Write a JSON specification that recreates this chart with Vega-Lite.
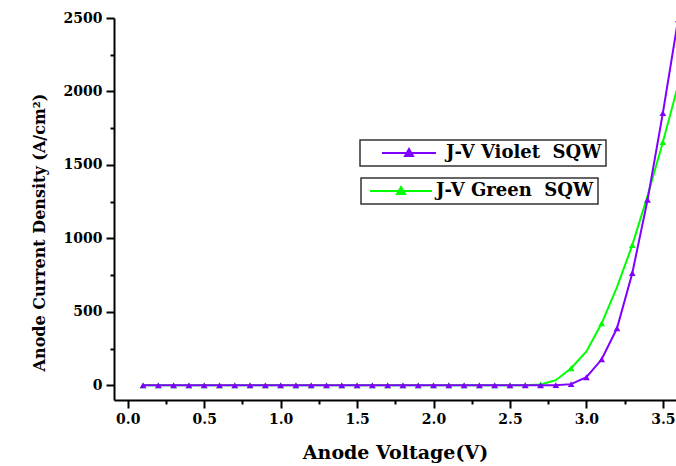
{
  "$schema": "https://vega.github.io/schema/vega-lite/v6.json",
  "width": 562,
  "height": 382,
  "autosize": {"type": "none"},
  "padding": {"left": 114, "top": 18, "right": 0, "bottom": 66},
  "background": "white",
  "config": {
    "view": {"stroke": null},
    "legend": {"strokeWidth": 1.5}
  },
  "data": {
    "values": [
      {"series": "Violet", "V": 0.1, "J": 0}, {"series": "Violet", "V": 0.2, "J": 0}, {"series": "Violet", "V": 0.3, "J": 0}, {"series": "Violet", "V": 0.4, "J": 0},
      {"series": "Violet", "V": 0.5, "J": 0}, {"series": "Violet", "V": 0.6, "J": 0}, {"series": "Violet", "V": 0.7, "J": 0}, {"series": "Violet", "V": 0.8, "J": 0},
      {"series": "Violet", "V": 0.9, "J": 0}, {"series": "Violet", "V": 1.0, "J": 0}, {"series": "Violet", "V": 1.1, "J": 0}, {"series": "Violet", "V": 1.2, "J": 0},
      {"series": "Violet", "V": 1.3, "J": 0}, {"series": "Violet", "V": 1.4, "J": 0}, {"series": "Violet", "V": 1.5, "J": 0}, {"series": "Violet", "V": 1.6, "J": 0},
      {"series": "Violet", "V": 1.7, "J": 0}, {"series": "Violet", "V": 1.8, "J": 0}, {"series": "Violet", "V": 1.9, "J": 0}, {"series": "Violet", "V": 2.0, "J": 0},
      {"series": "Violet", "V": 2.1, "J": 0}, {"series": "Violet", "V": 2.2, "J": 0}, {"series": "Violet", "V": 2.3, "J": 0}, {"series": "Violet", "V": 2.4, "J": 0},
      {"series": "Violet", "V": 2.5, "J": 0}, {"series": "Violet", "V": 2.6, "J": 0}, {"series": "Violet", "V": 2.7, "J": 0}, {"series": "Violet", "V": 2.8, "J": 1},
      {"series": "Violet", "V": 2.9, "J": 8}, {"series": "Violet", "V": 3.0, "J": 55}, {"series": "Violet", "V": 3.1, "J": 177}, {"series": "Violet", "V": 3.2, "J": 388},
      {"series": "Violet", "V": 3.3, "J": 763}, {"series": "Violet", "V": 3.4, "J": 1262}, {"series": "Violet", "V": 3.5, "J": 1853}, {"series": "Violet", "V": 3.6, "J": 2490},
      {"series": "Green", "V": 0.1, "J": 0}, {"series": "Green", "V": 0.2, "J": 0}, {"series": "Green", "V": 0.3, "J": 0}, {"series": "Green", "V": 0.4, "J": 0},
      {"series": "Green", "V": 0.5, "J": 0}, {"series": "Green", "V": 0.6, "J": 0}, {"series": "Green", "V": 0.7, "J": 0}, {"series": "Green", "V": 0.8, "J": 0},
      {"series": "Green", "V": 0.9, "J": 0}, {"series": "Green", "V": 1.0, "J": 0}, {"series": "Green", "V": 1.1, "J": 0}, {"series": "Green", "V": 1.2, "J": 0},
      {"series": "Green", "V": 1.3, "J": 0}, {"series": "Green", "V": 1.4, "J": 0}, {"series": "Green", "V": 1.5, "J": 0}, {"series": "Green", "V": 1.6, "J": 0},
      {"series": "Green", "V": 1.7, "J": 0}, {"series": "Green", "V": 1.8, "J": 0}, {"series": "Green", "V": 1.9, "J": 0}, {"series": "Green", "V": 2.0, "J": 0},
      {"series": "Green", "V": 2.1, "J": 0}, {"series": "Green", "V": 2.2, "J": 0}, {"series": "Green", "V": 2.3, "J": 0}, {"series": "Green", "V": 2.4, "J": 0},
      {"series": "Green", "V": 2.5, "J": 0}, {"series": "Green", "V": 2.6, "J": 1}, {"series": "Green", "V": 2.7, "J": 6}, {"series": "Green", "V": 2.8, "J": 35},
      {"series": "Green", "V": 2.9, "J": 116}, {"series": "Green", "V": 3.0, "J": 230}, {"series": "Green", "V": 3.1, "J": 422}, {"series": "Green", "V": 3.2, "J": 668},
      {"series": "Green", "V": 3.3, "J": 954}, {"series": "Green", "V": 3.4, "J": 1290}, {"series": "Green", "V": 3.5, "J": 1655}, {"series": "Green", "V": 3.6, "J": 2044}
    ]
  },
  "encoding": {
    "x": {
      "field": "V", "type": "quantitative",
      "scale": {"domain": [-0.09, 3.586], "nice": false, "zero": false},
      "axis": {
        "title": "Anode Voltage(V)",
        "values": [0, 0.25, 0.5, 0.75, 1, 1.25, 1.5, 1.75, 2, 2.25, 2.5, 2.75, 3, 3.25, 3.5],
        "labelExpr": "datum.value % 0.5 == 0 ? format(datum.value, '.1f') : ''",
        "grid": false,
        "domainColor": "black", "domainWidth": 2,
        "tickColor": "black", "tickWidth": 2,
        "tickSize": {"condition": {"test": "datum.value % 0.5 == 0", "value": 8}, "value": 4},
        "labelPadding": 4,
        "labelFont": "DejaVu Serif", "labelFontWeight": "bold", "labelFontSize": 14, "labelColor": "black",
        "labelFlush": false,
        "titleFont": "DejaVu Serif", "titleFontWeight": "bold", "titleFontSize": 19, "titleColor": "black",
        "titlePadding": 17
      }
    },
    "y": {
      "field": "J", "type": "quantitative",
      "scale": {"domain": [-100, 2500], "nice": false, "zero": false},
      "axis": {
        "title": "Anode Current Density (A/cm²)",
        "titleLimit": 500,
        "titleY": 214,
        "values": [0, 250, 500, 750, 1000, 1250, 1500, 1750, 2000, 2250, 2500],
        "labelExpr": "datum.value % 500 == 0 ? format(datum.value, 'd') : ''",
        "grid": false,
        "domainColor": "black", "domainWidth": 2,
        "tickColor": "black", "tickWidth": 2,
        "tickSize": {"condition": {"test": "datum.value % 500 == 0", "value": 8}, "value": 4},
        "labelPadding": 4,
        "labelFont": "DejaVu Serif", "labelFontWeight": "bold", "labelFontSize": 14, "labelColor": "black",
        "labelFlush": false,
        "titleFont": "DejaVu Serif", "titleFontWeight": "bold", "titleFontSize": 16, "titleColor": "black",
        "titlePadding": 16
      }
    }
  },
  "layer": [
    {
      "transform": [{"filter": "datum.series == 'Green'"}],
      "mark": {"type": "line", "strokeWidth": 2, "clip": true},
      "encoding": {
        "color": {
          "datum": "J-V Green\u00a0 SQW",
          "type": "nominal",
          "scale": {"range": ["#00ff00"]},
          "legend": {
            "title": null, "orient": "none", "legendX": 247, "legendY": 160,
            "padding": 4, "strokeColor": "#333333", "fillColor": "white",
            "symbolType": "M-6.2,0H6.2M-0.8,0.6L0,-0.8L0.8,0.6Z",
            "symbolSize": 100, "symbolStrokeWidth": 2, "symbolOffset": 27, "labelOffset": 26,
            "labelFont": "DejaVu Serif", "labelFontWeight": "bold", "labelFontSize": 18, "labelColor": "black",
            "labelLimit": 300,
            "encode": {"symbols": {"update": {"fill": {"value": "#00ff00"}, "stroke": {"value": "#00ff00"}}}}
          }
        }
      }
    },
    {
      "transform": [{"filter": "datum.series == 'Green' && (datum.V < 2.75 || round(datum.V * 10) % 2 == 1)"}],
      "mark": {"type": "point", "shape": "triangle-up", "filled": true, "size": 45, "color": "#00ff00", "opacity": 1, "clip": true}
    },
    {
      "transform": [{"filter": "datum.series == 'Violet'"}],
      "mark": {"type": "line", "strokeWidth": 2, "clip": true},
      "encoding": {
        "color": {
          "datum": "J-V Violet\u00a0 SQW",
          "type": "nominal",
          "scale": {"range": ["#7f00ff"]},
          "legend": {
            "title": null, "orient": "none", "legendX": 246, "legendY": 122,
            "padding": 4, "strokeColor": "#333333", "fillColor": "white",
            "symbolType": "M-5.4,0H5.4M-0.8,0.6L0,-0.8L0.8,0.6Z",
            "symbolSize": 100, "symbolStrokeWidth": 2, "symbolOffset": 36, "labelOffset": 28,
            "labelFont": "DejaVu Serif", "labelFontWeight": "bold", "labelFontSize": 18, "labelColor": "black",
            "labelLimit": 300,
            "encode": {"symbols": {"update": {"fill": {"value": "#7f00ff"}, "stroke": {"value": "#7f00ff"}}}}
          }
        }
      }
    },
    {
      "transform": [{"filter": "datum.series == 'Violet'"}],
      "mark": {"type": "point", "shape": "triangle-up", "filled": true, "size": 45, "color": "#7f00ff", "opacity": 1, "clip": true}
    }
  ],
  "resolve": {"scale": {"color": "independent"}, "legend": {"color": "independent"}}
}
